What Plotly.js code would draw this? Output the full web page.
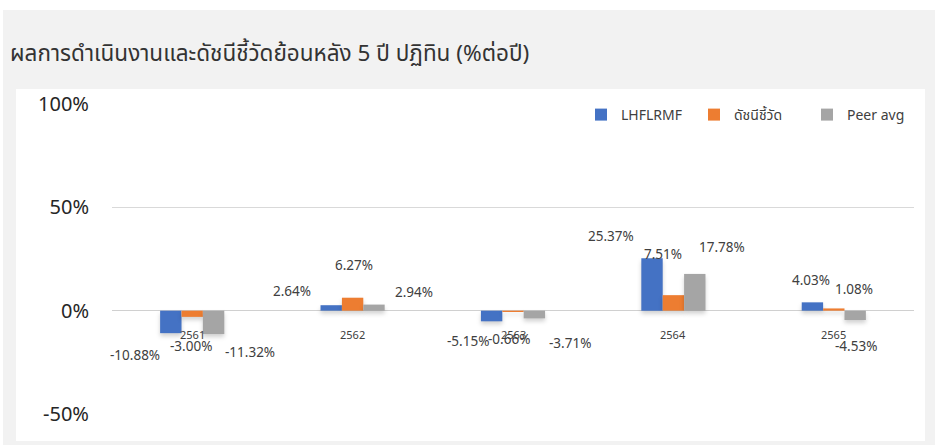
<!DOCTYPE html>
<html>
<head>
<meta charset="utf-8">
<script src="https://cdn.plot.ly/plotly-3.0.1.min.js"></script>
<style>
html,body{margin:0;padding:0;background:#fff;}
#chart{width:935px;height:445px;}
#chart .barlayer .point path{filter:drop-shadow(0px 3px 2px rgba(0,0,0,0.18));}
</style>
</head>
<body>
<div id="chart"></div>
<script>
// ---- data ----
var categories = ['2561', '2562', '2563', '2564', '2565'];
var seriesNames = ['LHFLRMF', 'ดัชนีชี้วัด', 'Peer avg'];
var fundValues = [-10.88, 2.64, -5.15, 25.37, 4.03];
var benchmarkValues = [-3.00, 6.27, -0.66, 7.51, 1.08];
var peerValues = [-11.32, 2.94, -3.71, 17.78, -4.53];
var yTickValues = [-50, 0, 50, 100];
var titleText = 'ผลการดำเนินงานและดัชนีชี้วัดย้อนหลัง 5 ปี ปฏิทิน (%ต่อปี)';

// ---- styles / label offsets (pixels) ----
var colors = ['#4472C4', '#ED7D31', '#A5A5A5'];
var labelShifts = [
  [[-57,-22],[-61,14],[-45,-20],[-62,22],[-23,22]],
  [[-1,-29],[1,33],[-4,-27],[-10,41],[20,19]],
  [[58,-18],[61,13],[57,-25],[49,27],[22,-26]]
];

var W = 935, H = 445;
var M = {l:112, r:21, t:104, b:31};
var PW = W - M.l - M.r, PH = H - M.t - M.b;
function px(x){ return (x - M.l) / PW; }
function py(y){ return (H - M.b - y) / PH; }

var font = '"Noto Sans", "Open Sans", "DejaVu Sans", sans-serif';
var thaiFont = '"Noto Sans Thai", "Noto Sans", "Tahoma", "DejaVu Sans", sans-serif';

var allValues = [fundValues, benchmarkValues, peerValues];
var traces = allValues.map(function(vals, i){
  return {
    type: 'bar',
    name: seriesNames[i],
    x: categories,
    y: vals,
    marker: {color: colors[i]},
    hoverinfo: 'none'
  };
});

var annotations = [];
allValues.forEach(function(vals, i){
  vals.forEach(function(v, j){
    annotations.push({
      xref: 'x', yref: 'y', x: j, y: v,   // x = category index
      text: v.toFixed(2) + '%',
      showarrow: false,
      xanchor: 'center', yanchor: 'middle',
      xshift: labelShifts[i][j][0], yshift: labelShifts[i][j][1],
      font: {family: font, size: 13.5, color: '#404040'}
    });
  });
});
// category labels next to the zero axis
categories.forEach(function(c, j){
  annotations.push({
    xref: 'x', yref: 'y', x: j, y: 0,
    text: c, showarrow: false,
    xanchor: 'center', yanchor: 'middle',
    yshift: -24,
    font: {family: font, size: 11, color: '#404040'}
  });
});

var shapes = [
  {type:'rect', xref:'paper', yref:'paper', x0:px(3), x1:px(935), y0:py(445), y1:py(10),
   fillcolor:'#f2f2f2', line:{width:0}, layer:'below'},
  {type:'rect', xref:'paper', yref:'paper', x0:px(16), x1:px(925), y0:py(441), y1:py(89),
   fillcolor:'#ffffff', line:{width:0}, layer:'below'}
];

var layout = {
  width: W, height: H,
  margin: M,
  paper_bgcolor: '#ffffff',
  plot_bgcolor: 'rgba(0,0,0,0)',
  barmode: 'group',
  bargap: 0.6,
  bargroupgap: 0,
  showlegend: true,
  title: {
    text: titleText,
    xref: 'container', yref: 'container',
    x: 10 / W, xanchor: 'left',
    y: 1 - 53 / H, yanchor: 'middle',
    font: {family: thaiFont, size: 22.5, color: '#333333'}
  },
  legend: {
    orientation: 'h',
    x: px(581), xanchor: 'left',
    y: py(115), yanchor: 'middle',
    bgcolor: 'rgba(0,0,0,0)',
    font: {family: thaiFont, size: 14, color: '#404040'},
    entrywidth: 68,
    entrywidthmode: 'pixels',
    traceorder: 'normal'
  },
  xaxis: {
    type: 'category',
    range: [-0.5, 4.5],
    showline: false,
    showgrid: false,
    zeroline: false,
    showticklabels: false,
    ticks: '',
    fixedrange: true
  },
  yaxis: {
    range: [-50, 100],
    tickvals: yTickValues,
    ticktext: yTickValues.map(function(v){ return v + '%'; }),
    showgrid: true,
    gridcolor: '#d9d9d9',
    gridwidth: 1,
    zeroline: true,
    zerolinecolor: '#d0d0d0',
    zerolinewidth: 1.5,
    ticks: '',
    ticklabelstandoff: 22,
    tickfont: {family: font, size: 20, color: '#262626'},
    fixedrange: true
  },
  shapes: shapes,
  annotations: annotations
};

Plotly.newPlot('chart', traces, layout, {displayModeBar: false, staticPlot: true});
</script>
</body>
</html>
